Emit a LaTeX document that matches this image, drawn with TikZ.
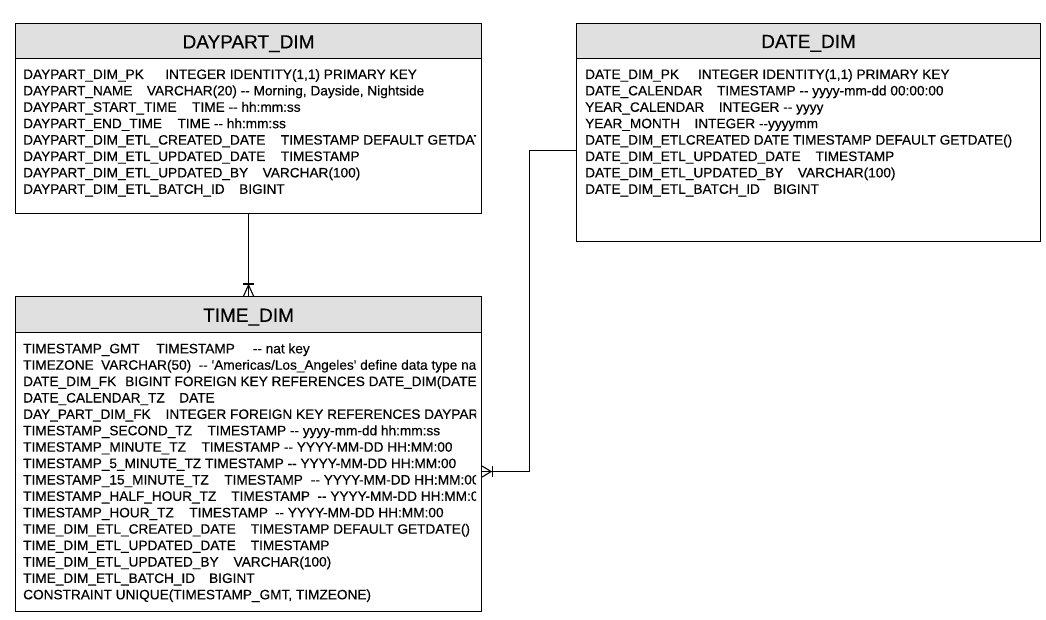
\documentclass[tikz,border=0pt]{standalone}
\usepackage{fontspec}
\setmainfont{Liberation Sans}[Ligatures=TeXOff, FakeBold=0.35]
\usetikzlibrary{calc}
\newcommand\gp[1]{\hspace{#1pt}}
\tikzset{
  box/.style={draw=black, line width=1.1pt, anchor=north west, inner sep=0},
  hdr/.style={draw=black, fill=black!12, line width=1.1pt, anchor=north west, inner sep=0},
  ttl/.style={anchor=base, inner sep=0, font=\fontsize{19}{21}\selectfont},
  row/.style={anchor=base west, inner sep=0, font=\fontsize{13.65}{16}\selectfont},
  conn/.style={draw=black, line width=1.1pt}
}
\begin{document}
\begin{tikzpicture}[x=1pt,y=-1pt]
\useasboundingbox (0,0) rectangle (1046,620);
% boxes
\node[box, minimum width=466, minimum height=190] (dp) at (15,23) {};
\node[hdr, minimum width=466, minimum height=35] (dph) at (15,23) {};
\node[box, minimum width=464, minimum height=218] (dd) at (576,23) {};
\node[hdr, minimum width=464, minimum height=35] (ddh) at (576,23) {};
\node[box, minimum width=466, minimum height=315] (td) at (15,296) {};
\node[hdr, minimum width=466, minimum height=36] (tdh) at (15,296) {};
% titles
\node[ttl] (dpt) at ($(dph.north)+(0,25.4)$) {DAYPART\_DIM};
\node[ttl] (ddt) at ($(ddh.north)+(0,25)$) {DATE\_DIM};
\node[ttl] (tdt) at ($(tdh.north)+(0,25.8)$) {TIME\_DIM};
% DAYPART rows
\begin{scope}
\clip (dp.north west) rectangle ([xshift=-6pt]dp.south east);
\foreach \t [count=\i from 0] in {
 {DAYPART\_DIM\_PK\gp{21.5}INTEGER IDENTITY(1,1) PRIMARY KEY},
 {DAYPART\_NAME\gp{14.5}VARCHAR(20) -{}- Morning, Dayside, Nightside},
 {DAYPART\_START\_TIME\gp{15.5}TIME -{}- hh:mm:ss},
 {DAYPART\_END\_TIME\gp{15.5}TIME -{}- hh:mm:ss},
 {DAYPART\_DIM\_ETL\_CREATED\_DATE\gp{15.5}TIMESTAMP DEFAULT GETDATE()},
 {DAYPART\_DIM\_ETL\_UPDATED\_DATE\gp{15.5}TIMESTAMP},
 {DAYPART\_DIM\_ETL\_UPDATED\_BY\gp{14.5}VARCHAR(100)},
 {DAYPART\_DIM\_ETL\_BATCH\_ID\gp{14.5}BIGINT}}
 \node[row] (dpr\i) at (23,79+16.4*\i) {\t};
\end{scope}
% DATE rows
\foreach \t [count=\i from 0] in {
 {DATE\_DIM\_PK\gp{19}INTEGER IDENTITY(1,1) PRIMARY KEY},
 {DATE\_CALENDAR\gp{14.5}TIMESTAMP -{}- yyyy-mm-dd 00:00:00},
 {YEAR\_CALENDAR\gp{14.5}INTEGER -{}- yyyy},
 {YEAR\_MONTH\gp{14.5}INTEGER -{}-yyyymm},
 {DATE\_DIM\_ETLCREATED DATE TIMESTAMP DEFAULT GETDATE()},
 {DATE\_DIM\_ETL\_UPDATED\_DATE\gp{15}TIMESTAMP},
 {DATE\_DIM\_ETL\_UPDATED\_BY\gp{14.5}VARCHAR(100)},
 {DATE\_DIM\_ETL\_BATCH\_ID\gp{13.5}BIGINT}}
 \node[row] (ddr\i) at (585,79+16.4*\i) {\t};
% TIME rows
\begin{scope}
\clip (td.north west) rectangle ([xshift=-6pt]td.south east);
\foreach \t [count=\i from 0] in {
 {TIMESTAMP\_GMT\gp{16.5}TIMESTAMP\gp{18}-{}- nat key},
 {TIMEZONE\gp{7.5}VARCHAR(50)\gp{7.5}-{}- 'Americas/Los\_Angeles' define data type name},
 {DATE\_DIM\_FK\gp{9}BIGINT FOREIGN KEY REFERENCES DATE\_DIM(DATE\_DIM\_PK)},
 {DATE\_CALENDAR\_TZ\gp{14.5}DATE},
 {DAY\_PART\_DIM\_FK\gp{15}INTEGER FOREIGN KEY REFERENCES DAYPART\_DIM(DAYPART\_DIM\_PK)},
 {TIMESTAMP\_SECOND\_TZ\gp{15.5}TIMESTAMP -{}- yyyy-mm-dd hh:mm:ss},
 {TIMESTAMP\_MINUTE\_TZ\gp{15.5}TIMESTAMP -{}- YYYY-MM-DD HH:MM:00},
 {TIMESTAMP\_5\_MINUTE\_TZ\gp{4}TIMESTAMP -{}- YYYY-MM-DD HH:MM:00},
 {TIMESTAMP\_15\_MINUTE\_TZ\gp{15.5}TIMESTAMP\gp{8}-{}- YYYY-MM-DD HH:MM:00},
 {TIMESTAMP\_HALF\_HOUR\_TZ\gp{15}TIMESTAMP\gp{7.5}-{}- YYYY-MM-DD HH:MM:00},
 {TIMESTAMP\_HOUR\_TZ\gp{15.5}TIMESTAMP\gp{7}-{}- YYYY-MM-DD HH:MM:00},
 {TIME\_DIM\_ETL\_CREATED\_DATE\gp{15}TIMESTAMP DEFAULT GETDATE()},
 {TIME\_DIM\_ETL\_UPDATED\_DATE\gp{15}TIMESTAMP},
 {TIME\_DIM\_ETL\_UPDATED\_BY\gp{15}VARCHAR(100)},
 {TIME\_DIM\_ETL\_BATCH\_ID\gp{14}BIGINT},
 {CONSTRAINT UNIQUE(TIMESTAMP\_GMT, TIMZEONE)}}
 \node[row] (tdr\i) at (23,353.3+16.4*\i) {\t};
\end{scope}
% connector DAYPART -> TIME
\draw[conn] (dp.south) -- (td.north);
\draw[conn] ([xshift=-5pt]td.north) -- ([yshift=11pt]td.north) -- ([xshift=5pt]td.north);
\draw[conn] ([xshift=-5.5pt,yshift=12pt]td.north) -- ([xshift=5.5pt,yshift=12pt]td.north);
% connector DATE -> TIME
\coordinate (e1) at ([yshift=-17.5pt]td.east);
\coordinate (e2) at ([yshift=-18pt]dd.west);
\draw[conn] (e1) -- ++(47,0) |- (e2);
\draw[conn] ([yshift=5.5pt]e1) -- ([xshift=9pt]e1) -- ([yshift=-5.5pt]e1);
\draw[conn] ([xshift=10pt,yshift=5.5pt]e1) -- ([xshift=10pt,yshift=-5.5pt]e1);
\end{tikzpicture}
\end{document}
